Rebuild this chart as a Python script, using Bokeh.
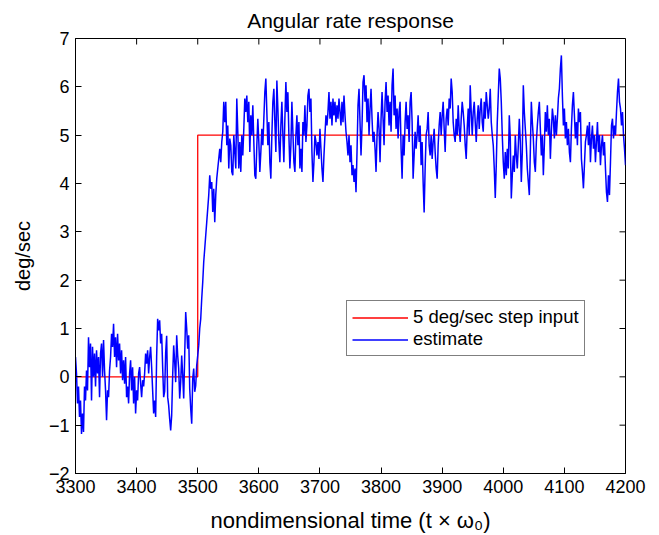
import numpy as np
from bokeh.plotting import figure
from bokeh.models import Legend, LegendItem, FixedTicker, Range1d
from bokeh.embed import file_html
from bokeh.resources import INLINE

# ---- data ----
x_ticks = [3300, 3400, 3500, 3600, 3700, 3800, 3900, 4000, 4100, 4200]
y_ticks = [-2, -1, 0, 1, 2, 3, 4, 5, 6, 7]

step_t = [3300, 3500, 3500, 4200]
step_v = [0, 0, 5, 5]

est_a = [0.41, 0.07, -0.55, -0.2, -0.83, -0.49, -1.18, -0.76, -1.14, -0.2,
         -0.49, 0.13, -0.28, 0.82, 0.2, 0.69, -0.49, 0.62, 0.0, 0.48,
         -0.2, 0.55, 0.07, 0.41, -0.42, 0.48, 0.69, 0.0, 0.76, 0.13,
         -0.28, -0.9, -0.28, -0.42, 0.13, 0.41, 0.89, 0.62, 1.1, 0.41,
         0.82, 0.2, 0.89, 0.34, 0.69, 0.07, 0.55, -0.07, 0.34, -0.14,
         0.41, -0.42, -0.2, -0.55, 0.07, 0.34, -0.28, 0.2, -0.55, 0.0,
         -0.76, -0.28, -0.49, 0.07, 0.2, -0.14, -0.42, -0.07, -0.2, 0.07,
         0.48, 0.27, 0.55, 0.07, 0.41, 0.62, 0.2, -0.28, -0.76, -0.49,
         -0.83, 0.41, 1.2, 0.96, 1.17, 0.69, 0.89, 0.2, -0.42, -0.3,
         0.5, 0.85]
est_b = [-0.42, -0.59, -0.87, -1.11, -0.8, 0.03, 0.65, 0.31, -0.11, 0.86,
         0.44, 0.17, -0.45, -0.11, 0.44, 0.03, -0.45, 0.44, 1.34, 1.0,
         0.58, 0.86, -0.24, -0.66, -0.97, -0.04, 0.17, -0.31, -0.18, 0.24,
         0.44, 0.65, 1.0, 1.2, 1.62, 1.96, 2.38, 2.65, 2.93, 3.2,
         3.48, 3.76, 4.17, 3.89, 4.03, 3.41, 3.89, 3.2, 3.76, 4.1,
         4.31, 4.51, 4.72, 4.44, 4.86, 5.07, 5.69, 5.27, 5.69, 4.79,
         5.2, 4.31, 4.93, 4.79, 4.24, 4.17, 5.0, 4.65, 4.31, 5.76,
         5.07, 4.31, 4.86, 4.24, 5.0, 4.58, 5.13, 5.76, 5.48, 5.82,
         5.27, 5.69, 4.65, 5.41, 5.0, 5.62, 4.86, 4.17]
est_c = [4.1, 4.79, 5.34, 4.86, 4.24, 4.65, 5.13, 4.79, 5.34, 5.89,
         6.17, 5.48, 4.79, 5.27, 4.44, 4.1, 5.0, 5.69, 5.96, 5.27,
         4.65, 6.13, 5.55, 4.86, 4.44, 5.2, 5.69, 5.0, 4.44, 5.34,
         6.1, 5.48, 5.89, 5.0, 4.31, 4.79, 5.69, 5.06, 4.44, 4.24,
         5.0, 5.41, 4.79, 5.27, 4.31, 4.72, 4.24, 5.27, 5.0, 5.62,
         4.86, 5.2, 5.82, 5.96, 5.48, 5.76, 4.65, 4.03, 4.44, 5.0,
         4.86, 4.58, 4.86, 4.51, 5.13, 4.72, 4.31, 4.03, 4.58, 5.0,
         5.41, 5.2, 5.48, 5.89, 5.34, 5.69, 5.2, 5.76, 5.41, 5.69,
         5.27, 5.62, 5.34, 5.76, 5.48, 5.2, 5.69, 5.27, 5.82, 5.41]
est_d = [5.07, 4.86, 4.58, 5.0, 4.44, 4.79, 4.17, 4.38, 4.03, 4.31,
         3.82, 4.65, 5.62, 5.96, 5.27, 4.58, 5.2, 6.1, 6.24, 5.69,
         6.03, 5.27, 5.76, 5.0, 5.55, 5.96, 5.34, 4.86, 5.07, 4.72,
         4.24, 5.0, 5.48, 5.13, 4.44, 5.34, 5.89, 5.34, 4.79, 5.69,
         6.1, 5.48, 5.82, 5.2, 5.69, 5.07, 6.03, 6.38, 5.41, 5.82,
         5.13, 5.55, 4.93, 5.48, 5.69, 4.72, 4.1, 5.0, 4.58, 5.27,
         5.69, 5.13, 5.41, 4.86, 5.69, 5.89, 5.27, 4.1, 4.58, 5.07,
         4.72, 5.0, 5.41, 4.86, 5.2, 4.38, 4.86, 4.03, 3.4, 4.31,
         5.0, 5.13, 5.48, 4.79, 4.58, 5.0, 4.51, 4.86, 5.13, 4.65]
est_e = [4.31, 4.1, 4.79, 5.2, 5.48, 5.0, 5.41, 5.69, 5.13, 4.65,
         5.34, 5.55, 5.2, 5.76, 5.55, 6.17, 5.89, 5.27, 5.0, 4.86,
         5.34, 5.0, 5.62, 5.13, 4.86, 5.34, 5.69, 5.48, 5.2, 4.79,
         4.51, 5.13, 5.55, 5.0, 6.03, 5.48, 5.0, 5.48, 5.69, 5.27,
         4.86, 5.34, 5.62, 5.13, 5.55, 5.76, 5.27, 5.07, 5.69, 5.34,
         5.89, 5.62, 5.34, 5.55, 5.96, 5.27, 5.0, 4.79, 4.31, 3.7,
         4.38, 5.27, 5.82, 6.38, 6.17, 5.69, 5.0, 4.44, 4.1, 4.65,
         4.17, 4.72, 4.31, 5.41, 4.93, 3.69, 4.17, 4.58, 4.24, 5.0,
         4.58, 4.31, 4.79, 5.34, 4.86, 4.03, 4.65, 6.03, 5.48, 5.13]
est_f = [4.79, 4.31, 4.03, 3.76, 4.65, 5.69, 5.27, 4.93, 4.44, 4.24,
         4.86, 5.2, 5.48, 5.69, 5.13, 4.58, 5.0, 4.17, 4.79, 5.48,
         5.07, 5.62, 5.0, 5.34, 4.51, 5.07, 5.55, 5.34, 4.93, 5.41,
         5.0, 5.34, 5.76, 5.96, 6.38, 6.65, 5.82, 5.2, 5.55, 4.93,
         5.27, 4.79, 5.13, 4.65, 4.44, 5.13, 5.62, 5.89, 5.41, 4.93,
         5.27, 4.79, 5.55, 5.27, 5.48, 4.51, 4.24, 3.9, 4.38, 4.86,
         5.0, 5.2, 4.79, 5.27, 4.44, 4.93, 5.2, 4.72, 5.0, 4.44,
         4.86, 5.27, 4.65, 5.0, 4.38, 4.79, 5.0, 4.58, 4.86, 4.31,
         3.82, 3.62, 4.17, 3.76, 4.44, 5.2, 5.34, 4.93, 5.2, 5.0,
         5.48, 5.89, 6.17, 5.69, 5.55, 5.2, 5.48, 5.0, 4.72, 4.38]

est_v = est_a + est_b + est_c + est_d + est_e + est_f
est_t = np.linspace(3300, 4200, len(est_v))

FONT = "Liberation Sans"
FRAME_W, FRAME_H = 550, 435
X0, X1, Y0, Y1 = 3300, 4200, -2, 7

p = figure(width=659, height=535, output_backend="svg", toolbar_location=None,
           frame_width=FRAME_W, frame_height=FRAME_H,
           x_range=Range1d(X0, X1), y_range=Range1d(Y0, Y1),
           min_border_left=75, min_border_right=34, min_border_top=38,
           min_border_bottom=62, title="Angular rate response")

p.title.align = "center"
p.title.vertical_align = "top"
p.title.text_font = FONT
p.title.text_font_size = "21px"
p.title.text_font_style = "normal"
p.title.text_color = "black"
p.title.text_line_height = 0.6
p.title.standoff = 10

p.xgrid.visible = False
p.ygrid.visible = False
p.outline_line_color = "black"
p.outline_line_width = 1
p.background_fill_color = "white"
p.border_fill_color = "white"

r_step = p.line(step_t, step_v, line_color="#ff0000", line_width=1.3)
r_est = p.line(est_t, est_v, line_color="#0000ff", line_width=1.5)

# inward ticks on the top and right edges (MATLAB box style)
tick_px = 6
ty = (Y1 - Y0) * tick_px / FRAME_H
tx = (X1 - X0) * tick_px / FRAME_W
p.segment(x0=x_ticks, y0=[Y1] * len(x_ticks), x1=x_ticks,
          y1=[Y1 - ty] * len(x_ticks), line_color="black", line_width=1)
p.segment(x0=[X1] * len(y_ticks), y0=y_ticks, x1=[X1 - tx] * len(y_ticks),
          y1=y_ticks, line_color="black", line_width=1)


def style_axis(ax):
    ax.axis_line_color = "black"
    ax.major_tick_line_color = "black"
    ax.major_tick_in = tick_px
    ax.major_tick_out = 0
    ax.minor_tick_in = 0
    ax.minor_tick_out = 0
    ax.minor_tick_line_color = None
    ax.major_label_text_font = FONT
    ax.major_label_text_font_size = "18px"
    ax.major_label_text_color = "black"
    ax.axis_label_text_font = FONT
    ax.axis_label_text_font_style = "normal"
    ax.axis_label_text_color = "black"


xax = p.xaxis[0]
xax.ticker = FixedTicker(ticks=x_ticks)
style_axis(xax)
xax.major_label_standoff = 6
xax.axis_label = "nondimensional time (t \u00d7 \u03c9\u2080)"
xax.axis_label_text_font_size = "22px"
xax.axis_label_standoff = 12

yax = p.yaxis[0]
yax.ticker = FixedTicker(ticks=y_ticks)
style_axis(yax)
yax.major_label_standoff = 6
yax.axis_label = "deg/sec"
yax.axis_label_text_font_size = "20px"
yax.axis_label_standoff = 12

legend = Legend(items=[LegendItem(label="5 deg/sec step input", renderers=[r_step]),
                       LegendItem(label="estimate", renderers=[r_est])],
                location=(271, 117))
legend.label_text_font = FONT
legend.label_text_font_size = "18.5px"
legend.label_text_color = "black"
legend.glyph_width = 56
legend.glyph_height = 19
legend.label_height = 19
legend.label_standoff = 5
legend.spacing = 0
legend.padding = 5
legend.margin = 0
legend.border_line_color = "black"
legend.border_line_width = 1
legend.background_fill_color = "white"
legend.background_fill_alpha = 1
p.add_layout(legend, "center")

open("out.html", "w").write(file_html(p, INLINE))
